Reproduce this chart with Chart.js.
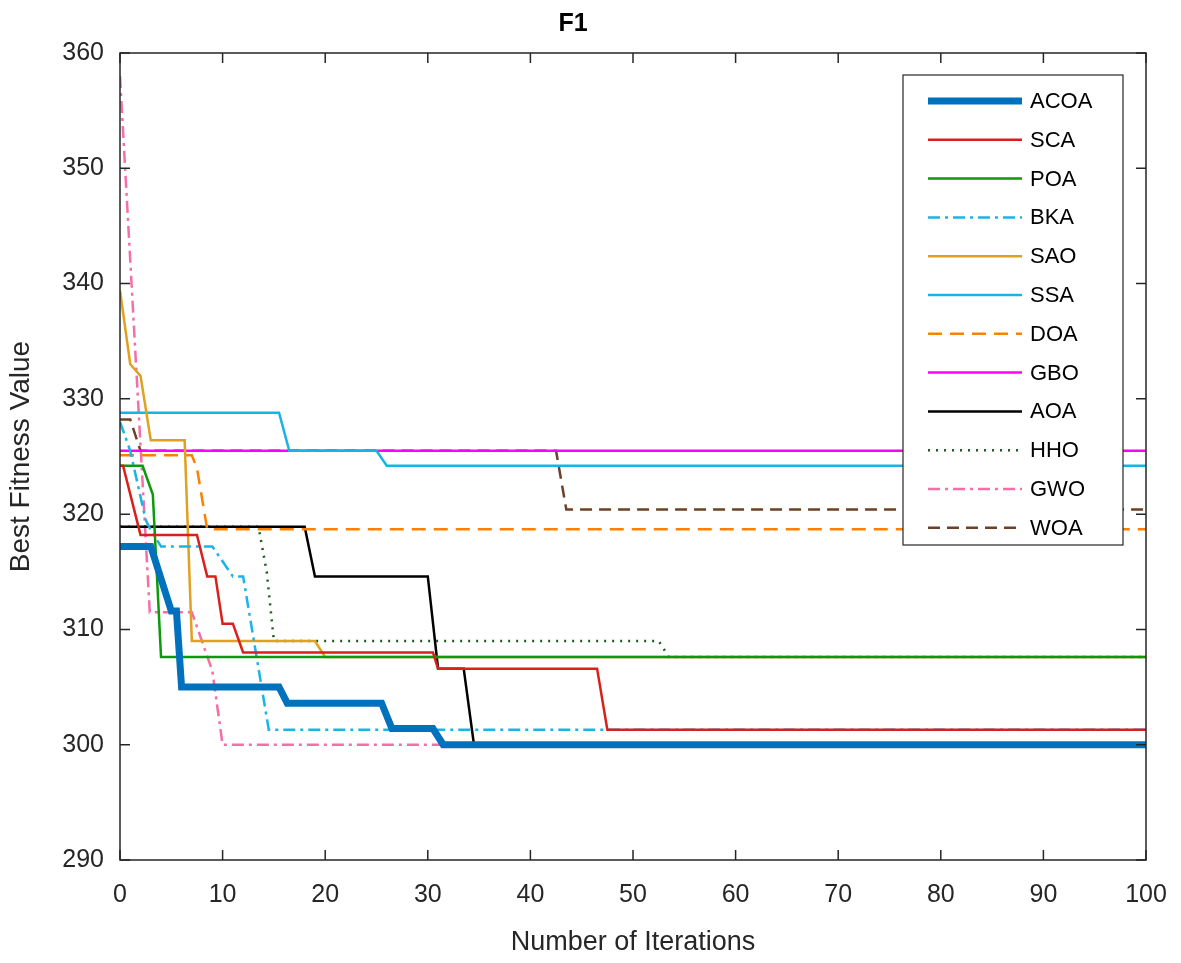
<!DOCTYPE html>
<html>
<head>
<meta charset="utf-8">
<script src="https://cdn.jsdelivr.net/npm/chart.js@4"></script>
<style>
  body { margin: 0; background: #fff; }
  #wrap { width: 1181px; height: 963px; }
</style>
</head>
<body>
<div id="wrap"><canvas id="c" width="1181" height="963"></canvas></div>
<script>
// breakpoints (iteration, best fitness)
const names = ["ACOA", "SCA", "POA", "BKA", "SAO", "SSA", "DOA", "GBO", "AOA", "HHO", "GWO", "WOA"];
const acoaX = [0, 3, 5, 5.5, 6, 15.5, 16.3, 25.5, 26.5, 30.5, 31.5, 100];
const acoaY = [317.2, 317.2, 311.6, 311.6, 305, 305, 303.6, 303.6, 301.4, 301.4, 300, 300];
const scaX = [0, 0.3, 2, 7.5, 8.5, 9.3, 10, 11, 12, 30.5, 31, 46.5, 47.5, 100];
const scaY = [324.2, 324.2, 318.2, 318.2, 314.6, 314.6, 310.5, 310.5, 308, 308, 306.6, 306.6, 301.3, 301.3];
const poaX = [0, 2.2, 3.2, 4, 100];
const poaY = [324.2, 324.2, 321.7, 307.6, 307.6];
const bkaX = [0, 1, 2.5, 3, 4, 9, 11, 12, 14.5, 100];
const bkaY = [328, 325.5, 319.5, 318.6, 317.2, 317.2, 314.6, 314.6, 301.3, 301.3];
const saoX = [0, 1, 2, 3, 6.3, 7, 19, 20, 100];
const saoY = [339.4, 333, 332, 326.4, 326.4, 309, 309, 307.6, 307.6];
const ssaX = [0, 15.5, 16.5, 25, 26, 100];
const ssaY = [328.8, 328.8, 325.5, 325.5, 324.2, 324.2];
const doaX = [0, 7, 7.5, 8.5, 100];
const doaY = [325.1, 325.1, 324, 318.7, 318.7];
const gboX = [0, 100];
const gboY = [325.5, 325.5];
const aoaX = [0, 18, 19, 30, 31, 33.5, 34.5, 100];
const aoaY = [318.9, 318.9, 314.6, 314.6, 306.6, 306.6, 300, 300];
const hhoX = [0, 13.5, 14.3, 15, 52.5, 53.5, 100];
const hhoY = [318.9, 318.9, 315, 309, 309, 307.6, 307.6];
const gwoX = [0, 1.5, 2.9, 7, 9, 10, 100];
const gwoY = [358, 334, 311.5, 311.5, 306.4, 300, 300];
const woaX = [0, 1, 2, 42.5, 43.5, 100];
const woaY = [328.2, 328.2, 325.5, 325.5, 320.4, 320.4];

const xTicks = [0, 10, 20, 30, 40, 50, 60, 70, 80, 90, 100];
const yTicks = [290, 300, 310, 320, 330, 340, 350, 360];

const xs = [acoaX, scaX, poaX, bkaX, saoX, ssaX, doaX, gboX, aoaX, hhoX, gwoX, woaX];
const ys = [acoaY, scaY, poaY, bkaY, saoY, ssaY, doaY, gboY, aoaY, hhoY, gwoY, woaY];
const colors = ["#0072bd", "#d9201a", "#0a9a0a", "#1ab4e6", "#e0a020", "#14b4e6",
                "#ff8000", "#ff00ff", "#000000", "#1a5e1a", "#f46ea8", "#6b4226"];
const widths = [7, 2.5, 2.5, 2.5, 2.5, 2.5, 2.5, 2.5, 2.5, 2.5, 2.5, 2.5];
const dashes = [[], [], [], [12, 5, 3, 5], [], [], [14, 8], [], [], [2, 6], [12, 5, 3, 5], [12, 7]];

// draw back-to-front so ACOA sits on top
const datasets = names.map((n, i) => ({
  label: n,
  data: xs[i].map((x, k) => ({ x: x, y: ys[i][k] })),
  borderColor: colors[i],
  borderWidth: widths[i],
  borderDash: dashes[i],
  pointRadius: 0,
  fill: false,
  tension: 0,
  order: i === 0 ? -1 : i
}));

// box, inward ticks and legend, MATLAB style
const matlabBox = {
  id: "matlabBox",
  afterDraw(chart) {
    const { ctx, chartArea: a, scales } = chart;
    ctx.save();
    ctx.strokeStyle = "#262626";
    ctx.lineWidth = 1.5;
    ctx.setLineDash([]);
    ctx.strokeRect(a.left, a.top, a.right - a.left, a.bottom - a.top);
    xTicks.forEach(t => {
      const px = scales.x.getPixelForValue(t);
      ctx.beginPath(); ctx.moveTo(px, a.bottom); ctx.lineTo(px, a.bottom - 10);
      ctx.moveTo(px, a.top); ctx.lineTo(px, a.top + 10); ctx.stroke();
    });
    yTicks.forEach(t => {
      const py = scales.y.getPixelForValue(t);
      ctx.beginPath(); ctx.moveTo(a.left, py); ctx.lineTo(a.left + 10, py);
      ctx.moveTo(a.right, py); ctx.lineTo(a.right - 10, py); ctx.stroke();
    });

    // legend
    const lx = 903, ly = 75, lw = 220, lh = 470;
    ctx.fillStyle = "#fff";
    ctx.fillRect(lx, ly, lw, lh);
    ctx.strokeStyle = "#262626";
    ctx.lineWidth = 1.2;
    ctx.strokeRect(lx, ly, lw, lh);
    ctx.font = "22px Arial, 'Liberation Sans', sans-serif";
    ctx.textBaseline = "middle";
    names.forEach((n, i) => {
      const y = 101 + i * 38.8;
      ctx.strokeStyle = colors[i];
      ctx.lineWidth = widths[i];
      ctx.setLineDash(dashes[i]);
      ctx.beginPath(); ctx.moveTo(928, y); ctx.lineTo(1022, y); ctx.stroke();
      ctx.fillStyle = "#000";
      ctx.fillText(n, 1030, y + 1);
    });
    ctx.restore();
  }
};

const font = { family: "Arial, 'Liberation Sans', sans-serif", size: 25 };

new Chart(document.getElementById("c"), {
  type: "line",
  data: { datasets: datasets },
  options: {
    responsive: false,
    animation: false,
    layout: { padding: { top: 0, right: 35, left: 0, bottom: 0 } },
    plugins: {
      legend: { display: false },
      tooltip: { enabled: false },
      title: {
        display: true, text: "F1", color: "#000",
        font: { family: font.family, size: 25, weight: "bold" },
        padding: { top: 9, bottom: 14 }
      }
    },
    scales: {
      x: {
        type: "linear", min: 0, max: 100,
        afterBuildTicks: s => { s.ticks = xTicks.map(v => ({ value: v })); },
        afterFit: s => { s.height = 103; },
        grid: { display: false },
        border: { display: false },
        ticks: { color: "#262626", font: font, maxRotation: 0, padding: 12 },
        title: { display: true, text: "Number of Iterations", color: "#262626", font: { family: font.family, size: 27 }, padding: { top: 2 } }
      },
      y: {
        type: "linear", min: 290, max: 360,
        afterBuildTicks: s => { s.ticks = yTicks.map(v => ({ value: v })); },
        afterFit: s => { s.width = 120; },
        grid: { display: false },
        border: { display: false },
        ticks: { color: "#262626", font: font, padding: 8 },
        title: { display: true, text: "Best Fitness Value", color: "#262626", font: { family: font.family, size: 28 }, padding: { bottom: 4 } }
      }
    }
  },
  plugins: [matlabBox]
});
</script>
</body>
</html>
